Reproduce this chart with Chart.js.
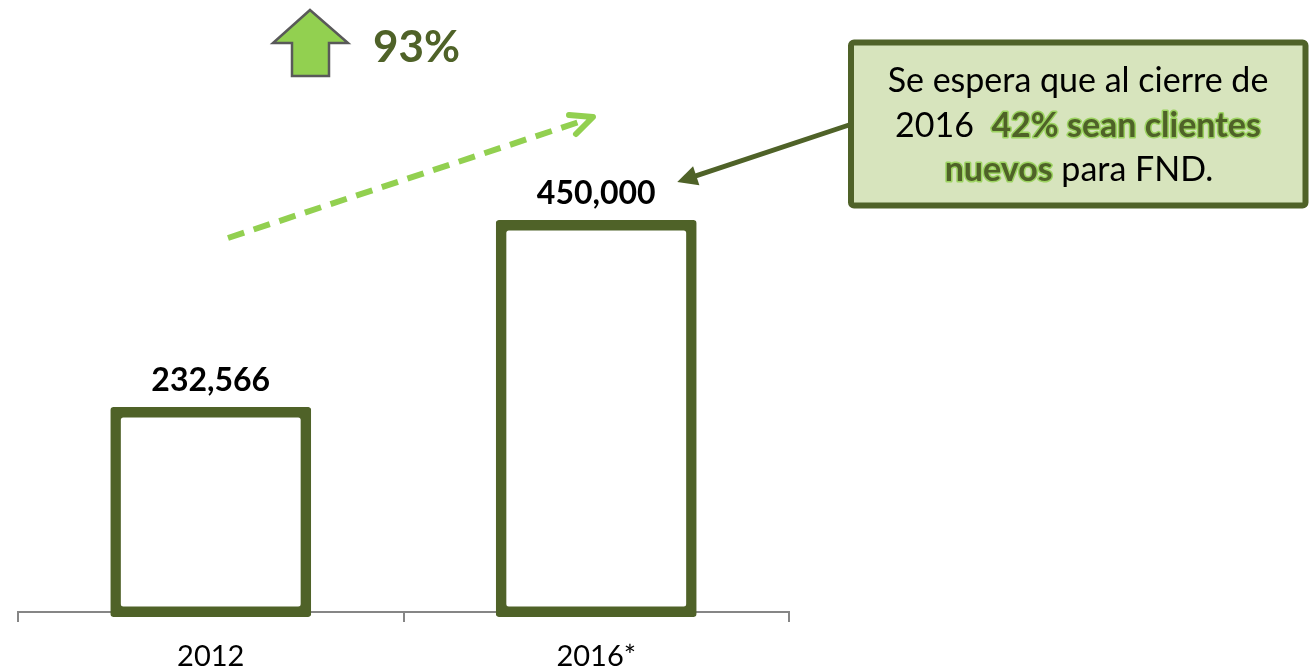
<!DOCTYPE html>
<html><head><meta charset="utf-8">
<script src="https://cdn.jsdelivr.net/npm/chart.js@4"></script>
<style>html,body{margin:0;padding:0;background:#fff;}#wrap{width:1313px;height:668px;position:relative;}</style>
</head><body><div id="wrap"><canvas id="c" width="1313" height="668"></canvas></div>
<script>
// ---- data ----
const categories = ['2012', '2016*'];
const clientes = [232566, 450000];
const growthLabel = '93%';
const calloutLine1 = 'Se espera que al cierre de';
const calloutLine2a = '2016  ';
const calloutLine2b = '42% sean clientes';
const calloutLine3a = 'nuevos';
const calloutLine3b = ' para FND.';

const OLIVE = '#4F6228';
const LIGHT = '#92D050';
const FONT = 'Lato, "Open Sans", sans-serif';
const CALLOUT_SIZE = 34;

const labelsPlugin = {
  id: 'barLabels',
  afterDatasetsDraw(chart) {
    const ctx = chart.ctx;
    const meta = chart.getDatasetMeta(0);
    ctx.save();
    ctx.font = 'bold 32px ' + FONT;
    ctx.fillStyle = '#000';
    ctx.textAlign = 'center';
    ctx.textBaseline = 'alphabetic';
    meta.data.forEach((el, i) => {
      ctx.fillText(clientes[i].toLocaleString('en-US'), el.x, el.y - 21);
    });
    ctx.restore();
  }
};

function drawSegments(ctx, segs, cx, y) {
  let total = 0;
  segs.forEach(s => { ctx.font = (s.bold ? 'bold ' : '') + CALLOUT_SIZE + 'px ' + FONT; s.w = ctx.measureText(s.t).width; total += s.w; });
  let x = cx - total / 2;
  ctx.textAlign = 'left';
  segs.forEach(s => {
    ctx.font = (s.bold ? 'bold ' : '') + CALLOUT_SIZE + 'px ' + FONT;
    if (s.bold) {
      ctx.lineJoin = 'round';
      ctx.lineWidth = 3;
      ctx.strokeStyle = 'rgba(146,208,80,0.85)';
      ctx.strokeText(s.t, x, y);
      ctx.fillStyle = OLIVE;
    } else {
      ctx.fillStyle = '#000';
    }
    ctx.fillText(s.t, x, y);
    x += s.w;
  });
}

const annotPlugin = {
  id: 'annot',
  afterDraw(chart) {
    const ctx = chart.ctx;
    ctx.save();
    // up arrow
    ctx.beginPath();
    ctx.moveTo(310, 10); ctx.lineTo(348, 43); ctx.lineTo(329, 43); ctx.lineTo(329, 76);
    ctx.lineTo(292, 76); ctx.lineTo(292, 43); ctx.lineTo(273, 43); ctx.closePath();
    ctx.fillStyle = LIGHT; ctx.fill();
    ctx.lineWidth = 2.5; ctx.strokeStyle = '#595959'; ctx.lineJoin = 'miter'; ctx.stroke();
    // 93%
    ctx.font = 'bold 44px ' + FONT;
    ctx.fillStyle = OLIVE; ctx.textAlign = 'left'; ctx.textBaseline = 'alphabetic';
    ctx.fillText(growthLabel, 373, 62);
    // dashed growth arrow
    ctx.strokeStyle = LIGHT; ctx.lineWidth = 6; ctx.lineCap = 'butt';
    ctx.setLineDash([17, 10]);
    ctx.beginPath(); ctx.moveTo(228, 238); ctx.lineTo(588, 119); ctx.stroke();
    ctx.setLineDash([]);
    ctx.lineCap = 'round'; ctx.lineJoin = 'round';
    ctx.beginPath(); ctx.moveTo(569, 115); ctx.lineTo(593, 117); ctx.lineTo(576, 134); ctx.stroke();
    // callout box
    const bx = 851, by = 42.5, bw = 454.5, bh = 163, r = 3;
    ctx.beginPath();
    ctx.roundRect(bx, by, bw, bh, r);
    ctx.fillStyle = '#D7E4BD'; ctx.fill();
    ctx.lineWidth = 6; ctx.strokeStyle = OLIVE; ctx.lineJoin = 'round'; ctx.stroke();
    // callout pointer arrow to bar 2 label
    const el = chart.getDatasetMeta(0).data[1];
    const tx = el.x + 81, ty = el.y - 43;
    const sx = 849, sy = 125;
    const ang = Math.atan2(ty - sy, tx - sx);
    const hl = 20, hw = 10;
    const bxh = tx - Math.cos(ang) * hl, byh = ty - Math.sin(ang) * hl;
    ctx.strokeStyle = OLIVE; ctx.lineWidth = 5; ctx.lineCap = 'butt';
    ctx.beginPath(); ctx.moveTo(sx, sy); ctx.lineTo(bxh + Math.cos(ang) * 2, byh + Math.sin(ang) * 2); ctx.stroke();
    ctx.beginPath();
    ctx.moveTo(tx, ty);
    ctx.lineTo(bxh + Math.sin(ang) * hw, byh - Math.cos(ang) * hw);
    ctx.lineTo(bxh - Math.sin(ang) * hw, byh + Math.cos(ang) * hw);
    ctx.closePath(); ctx.fillStyle = OLIVE; ctx.fill();
    // callout text
    ctx.textBaseline = 'alphabetic';
    drawSegments(ctx, [{t: calloutLine1, bold: false}], 1078, 92);
    drawSegments(ctx, [{t: calloutLine2a, bold: false}, {t: calloutLine2b, bold: true}], 1078, 137);
    drawSegments(ctx, [{t: calloutLine3a, bold: true}, {t: calloutLine3b, bold: false}], 1079, 181);
    ctx.restore();
  }
};

new Chart(document.getElementById('c'), {
  type: 'bar',
  data: {
    labels: categories,
    datasets: [{
      data: clientes,
      backgroundColor: 'rgba(0,0,0,0)',
      borderColor: OLIVE,
      borderWidth: 0.5,
      borderSkipped: false,
      inflateAmount: 5,
      borderRadius: 3,
      barPercentage: 0.495,
      categoryPercentage: 1,
      clip: false
    }]
  },
  options: {
    responsive: false,
    animation: false,
    devicePixelRatio: 1,
    layout: {padding: {top: 182, left: 18, right: 524, bottom: 0}},
    plugins: {legend: {display: false}, tooltip: {enabled: false}},
    scales: {
      x: {
        offset: true,
        z: 1,
        afterFit(scale) { scale.height = 56; },
        grid: {offset: true, drawOnChartArea: false, drawTicks: true, tickLength: 10, color: '#868686', lineWidth: 2},
        border: {display: true, color: '#868686', width: 2},
        ticks: {color: '#000', font: {family: 'Lato', size: 29}, padding: 17}
      },
      y: {display: false, min: 0, max: 500000}
    }
  },
  plugins: [labelsPlugin, annotPlugin]
});
</script></body></html>
